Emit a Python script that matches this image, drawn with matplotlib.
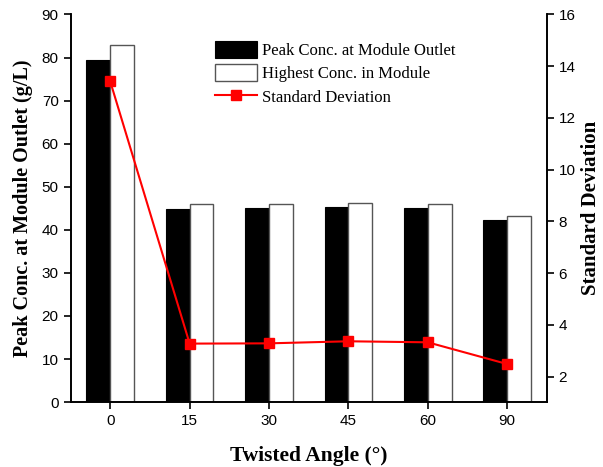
import numpy as np
import matplotlib
matplotlib.use('Agg')
from matplotlib import pyplot as plt

# twisted angle vs. concentration / standard deviation
angles = ['0', '15', '30', '45', '60', '90']
peak_outlet = [79.4, 44.9, 45.1, 45.3, 45.0, 42.3]
highest_module = [82.8, 45.9, 46.0, 46.3, 46.0, 43.3]
std_dev = [13.41, 3.28, 3.29, 3.37, 3.33, 2.49]

serif = ['Liberation Serif', 'DejaVu Serif']
sans = ['Liberation Sans', 'DejaVu Sans']

fig = plt.figure(figsize=(6.03, 4.67), dpi=100)
ax = fig.add_axes([0.117, 0.139, 0.790, 0.830])
ax2 = ax.twinx()

x = np.arange(len(angles))
w = 0.3
b1 = ax.bar(x - w / 2, peak_outlet, w, color='black', edgecolor='black', linewidth=0.8,
            label='Peak Conc. at Module Outlet')
b2 = ax.bar(x + w / 2, highest_module, w, color='white', edgecolor='#555555', linewidth=1.0,
            label='Highest Conc. in Module')
l1, = ax2.plot(x, std_dev, color='red', linewidth=1.5, marker='s', markersize=6.5,
               label='Standard Deviation')

ax.set_xlim(-0.5, 5.5)
ax.set_ylim(0, 90)
ax2.set_ylim(1.02, 16)
ax.set_xticks(x)
ax.set_xticklabels(angles)
ax.set_yticks(np.arange(0, 91, 10))
ax2.set_yticks(np.arange(2, 17, 2))

for a in (ax, ax2):
    a.spines['top'].set_visible(False)
    for s in a.spines.values():
        s.set_linewidth(1.2)
    a.tick_params(direction='out', length=5, width=1.2, labelsize=11)
    for lab in a.get_xticklabels() + a.get_yticklabels():
        lab.set_family(sans)

ax.set_xlabel('Twisted Angle (°)', fontsize=15.5, fontweight='bold', family=serif, labelpad=13)
ax.set_ylabel('Peak Conc. at Module Outlet (g/L)', fontsize=14.5, fontweight='bold', family=serif)
ax.yaxis.set_label_coords(-0.079, 0.5)
ax2.set_ylabel('Standard Deviation', fontsize=15, fontweight='bold', family=serif)
ax2.yaxis.set_label_coords(1.072, 0.5)

leg = ax2.legend([b1, b2, l1], [b1.get_label(), b2.get_label(), l1.get_label()],
                 loc='upper left', bbox_to_anchor=(0.29, 0.95), frameon=False,
                 prop={'family': serif, 'size': 12}, handlelength=2.5, handleheight=1.2,
                 labelspacing=0.32, handletextpad=0.3, borderaxespad=0)

fig.savefig('out.png', dpi=100)
